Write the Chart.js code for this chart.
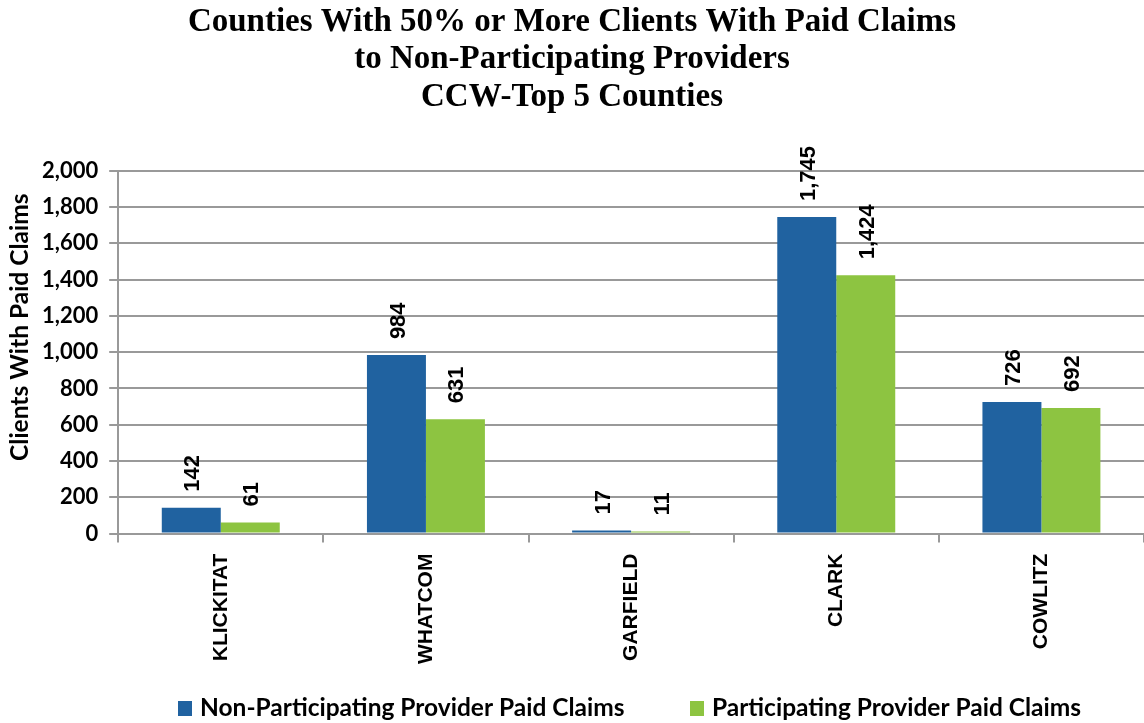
<!DOCTYPE html>
<html>
<head>
<meta charset="utf-8">
<script src="https://cdn.jsdelivr.net/npm/chart.js@4.4.1/dist/chart.umd.min.js"></script>
<style>
  html, body { margin: 0; padding: 0; background: #fff; overflow: hidden; }
  #wrap { width: 1144px; height: 723px; }
</style>
</head>
<body>
<div id="wrap"><canvas id="claimsChart" width="1144" height="723"></canvas></div>
<script>
// counties and paid claim client counts
const counties = ["KLICKITAT", "WHATCOM", "GARFIELD", "CLARK", "COWLITZ"];
const nonParticipating = [142, 984, 17, 1745, 726];
const participating = [61, 631, 11, 1424, 692];
const seriesNames = ["Non-Participating Provider Paid Claims", "Participating Provider Paid Claims"];
const seriesColors = ["#2062A0", "#8DC441"];
const titleLines = ["Counties With 50% or More Clients With Paid Claims", "to Non-Participating Providers", "CCW-Top 5 Counties"];
const yAxisTitle = "Clients With Paid Claims";
const yMax = 2000;
const yStep = 200;

// rotated value labels above each bar
const barValues = {
  id: "barValues",
  afterDatasetsDraw(chart) {
    const ctx = chart.ctx;
    chart.data.datasets.forEach((ds, i) => {
      const meta = chart.getDatasetMeta(i);
      meta.data.forEach((bar, j) => {
        ctx.save();
        ctx.translate(bar.x + 2, bar.y - 16);
        ctx.rotate(-Math.PI / 2);
        ctx.font = "bold 22px 'Liberation Sans'";
        ctx.fillStyle = "#000";
        ctx.textAlign = "left";
        ctx.textBaseline = "middle";
        ctx.fillText(ds.data[j].toLocaleString("en-US"), 0, 0);
        ctx.restore();
      });
    });
  }
};

// y axis title sits a bit above the middle of the plot, like the original
const sideTitle = {
  id: "sideTitle",
  afterDraw(chart) {
    const ctx = chart.ctx;
    const area = chart.chartArea;
    ctx.save();
    ctx.translate(20, (area.top + area.bottom) / 2 - 25);
    ctx.rotate(-Math.PI / 2);
    ctx.font = "bold 24.5px Lato";
    ctx.fillStyle = "#000";
    ctx.textAlign = "center";
    ctx.textBaseline = "middle";
    ctx.fillText(yAxisTitle, 0, 0);
    ctx.restore();
  }
};

// legend drawn by hand so the spacing can match the original
const bottomLegend = {
  id: "bottomLegend",
  afterDraw(chart) {
    const ctx = chart.ctx;
    const y = chart.height - 15;
    const starts = [178, 690];
    ctx.save();
    ctx.font = "bold 24.5px Lato";
    ctx.textBaseline = "middle";
    ctx.textAlign = "left";
    chart.data.datasets.forEach((ds, i) => {
      ctx.fillStyle = ds.backgroundColor;
      ctx.fillRect(starts[i], y - 7, 14, 15);
      ctx.fillStyle = "#000";
      ctx.fillText(ds.label, starts[i] + 22, y);
    });
    ctx.restore();
  }
};

const ctx = document.getElementById("claimsChart").getContext("2d");
const chart = new Chart(ctx, {
  type: "bar",
  data: {
    labels: counties,
    datasets: [
      { label: seriesNames[0], data: nonParticipating, backgroundColor: seriesColors[0] },
      { label: seriesNames[1], data: participating, backgroundColor: seriesColors[1] }
    ]
  },
  options: {
    responsive: false,
    animation: false,
    categoryPercentage: 0.575,
    barPercentage: 1.0,
    layout: { padding: { left: 0, right: 0, top: 0, bottom: 48 } },
    plugins: {
      legend: { display: false },
      tooltip: { enabled: false },
      title: {
        display: true,
        text: titleLines,
        color: "#000",
        font: { family: "'Liberation Serif'", size: 33, weight: "bold", lineHeight: 1.15 },
        padding: { top: 3, bottom: 54 }
      }
    },
    scales: {
      x: {
        grid: { drawOnChartArea: false, color: "#999", lineWidth: 2, tickLength: 9 },
        border: { color: "#999", width: 2 },
        ticks: {
          color: "#000",
          minRotation: 90,
          maxRotation: 90,
          padding: 11,
          font: { family: "'Liberation Sans'", size: 21, weight: "bold" }
        }
      },
      y: {
        min: 0,
        max: yMax,
        // leave room on the left for the hand-drawn axis title
        afterFit: (scale) => { scale.width += 31; },
        grid: { color: "#999", lineWidth: 2, tickLength: 9 },
        border: { color: "#999", width: 2 },
        ticks: {
          stepSize: yStep,
          color: "#000",
          padding: 11,
          font: { family: "Lato", size: 22, weight: "bold" }
        }
      }
    }
  },
  plugins: [barValues, sideTitle, bottomLegend]
});
</script>
</body>
</html>
